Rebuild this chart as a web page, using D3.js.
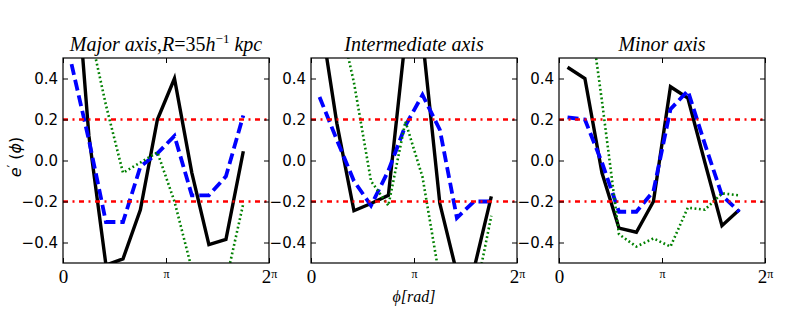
<!DOCTYPE html>
<html>
<head>
<meta charset="utf-8">
<script src="https://cdn.jsdelivr.net/npm/d3@7"></script>
<style>
  body { margin: 0; background: #fff; }
</style>
</head>
<body>
<script>

/* bin centres in phi [rad] */
var phi = [0.26, 0.79, 1.31, 1.83, 2.36, 2.88, 3.40, 3.93, 4.45, 4.97, 5.50];

var titles = ['Major axis', 'Intermediate axis', 'Minor axis'];

/* e'(phi): solid black, dashed blue, dotted green */
var major_solid  = [1.20, 0.12, -0.51, -0.48, -0.24, 0.20, 0.40, -0.06, -0.41, -0.385, 0.045];
var major_dashed = [0.47, 0.10, -0.30, -0.30, -0.03, 0.035, 0.12, -0.17, -0.17, -0.077, 0.22];
var major_dotted = [0.95, 0.65, 0.27, -0.06, -0.01, 0.04, -0.20, -0.53, -0.75, -0.59, -0.21];

var inter_solid  = [0.73, 0.18, -0.245, -0.21, -0.17, 0.60, 0.60, -0.21, -0.55, -0.53, -0.175];
var inter_dashed = [0.31, 0.10, -0.10, -0.22, -0.05, 0.17, 0.32, 0.15, -0.28, -0.20, -0.20];
var inter_dotted = [1.00, 0.75, 0.38, -0.10, -0.22, 0.19, -0.08, -0.58, -0.80, -0.69, -0.27];

var minor_solid  = [0.455, 0.40, -0.06, -0.33, -0.35, -0.20, 0.36, 0.305, -0.01, -0.318, -0.24];
var minor_dashed = [0.21, 0.20, -0.01, -0.25, -0.25, -0.15, 0.25, 0.34, 0.08, -0.17, -0.25];
var minor_dotted = [1.10, 0.90, 0.29, -0.36, -0.42, -0.38, -0.42, -0.23, -0.24, -0.16, -0.17];

var thresholds = [0.2, -0.2];
var y_ticks = [-0.4, -0.2, 0.0, 0.2, 0.4];
var x_ticks = [0, Math.PI, 2 * Math.PI];
var x_tick_labels = ['0', 'π', '2π'];

var panels = [
    {title: titles[0], series: [major_solid, major_dashed, major_dotted]},
    {title: titles[1], series: [inter_solid, inter_dashed, inter_dotted]},
    {title: titles[2], series: [minor_solid, minor_dashed, minor_dotted]}
];

/* plot dimensions */
var width = 789,
    height = 329,
    panel_left = [63, 311, 559],
    panel_w = 206,
    panel_top = 58,
    panel_h = 205;

var SERIF = '"Liberation Serif"',
    SANS = '"DejaVu Sans"';

var styles = [
    {color: '#000000', width: 3.4, dash: null},
    {color: '#0000ff', width: 3.8, dash: '11,5'},
    {color: '#008000', width: 2.6, dash: '1.8,2.6'}
];

var svg = d3.select('body').append('svg')
    .attr('width', width)
    .attr('height', height)
    .style('background', '#fff');

var x = d3.scaleLinear().domain([0, 2 * Math.PI]).range([0, panel_w]);
var y = d3.scaleLinear().domain([-0.5, 0.5]).range([panel_h, 0]);

var line = d3.line()
    .x((d, i) => x(phi[i]))
    .y(d => y(d));

panels.forEach(function(p, pi) {
    var g = svg.append('g')
        .attr('transform', 'translate(' + panel_left[pi] + ',' + panel_top + ')');

    g.append('clipPath').attr('id', 'clip' + pi)
        .append('rect').attr('width', panel_w).attr('height', panel_h);

    var plot = g.append('g').attr('clip-path', 'url(#clip' + pi + ')');

    p.series.forEach(function(s, si) {
        plot.append('path')
            .datum(s)
            .attr('d', line)
            .attr('fill', 'none')
            .attr('stroke', styles[si].color)
            .attr('stroke-width', styles[si].width)
            .attr('stroke-dasharray', styles[si].dash)
            .attr('stroke-linejoin', 'miter');
    });

    plot.selectAll('.thr').data(thresholds).enter().append('line')
        .attr('x1', 0).attr('x2', panel_w)
        .attr('y1', d => y(d)).attr('y2', d => y(d))
        .attr('stroke', '#ff0000')
        .attr('stroke-width', 2.5)
        .attr('stroke-dasharray', '5,4.5,2,4.5');

    /* inward ticks on all four sides */
    var ax_left = g.append('g')
        .call(d3.axisLeft(y).tickValues(y_ticks).tickSize(-5).tickPadding(5).tickFormat(d3.format('.1f')));
    ax_left.selectAll('text')
        .style('font-family', SANS)
        .style('font-size', '15px')
        .attr('fill', '#000');

    g.append('g').attr('transform', 'translate(' + panel_w + ',0)')
        .call(d3.axisRight(y).tickValues(y_ticks).tickSize(-5).tickFormat(''));
    g.append('g')
        .call(d3.axisTop(x).tickValues(x_ticks).tickSize(-5).tickFormat(''));
    var ax_bottom = g.append('g').attr('transform', 'translate(0,' + panel_h + ')')
        .call(d3.axisBottom(x).tickValues(x_ticks).tickSize(-5).tickFormat(''));

    ax_bottom.selectAll('.tick').each(function(d, i) {
        var lab = x_tick_labels[i];
        var t = d3.select(this).append('text')
            .attr('y', 20)
            .attr('text-anchor', 'middle')
            .attr('fill', '#000')
            .style('font-family', SERIF)
            .style('font-size', '19px');
        if (lab.indexOf('π') < 0) {
            t.text(lab);
        } else {
            if (lab.length > 1) t.append('tspan').text(lab.replace('π', ''));
            t.append('tspan').text('π')
                .style('font-size', '12px')
                .attr('dy', -5);
        }
    });

    g.selectAll('.domain').remove();
    g.selectAll('.tick line').attr('stroke', '#000').attr('stroke-width', 1);

    g.append('rect')
        .attr('width', panel_w).attr('height', panel_h)
        .attr('fill', 'none').attr('stroke', '#000').attr('stroke-width', 1.2);

    /* panel title */
    var title = g.append('text')
        .attr('x', panel_w / 2).attr('y', -7)
        .attr('text-anchor', 'middle')
        .style('font-family', SERIF)
        .style('font-size', '20px')
        .style('font-style', 'italic')
        .text(p.title);
    if (pi === 0) {
        title.append('tspan').style('font-style', 'normal').text(',');
        title.append('tspan').text('R');
        title.append('tspan').style('font-style', 'normal').text('=35');
        title.append('tspan').text('h');
        title.append('tspan').style('font-style', 'normal').style('font-size', '13px').attr('dy', -8).text('−1');
        title.append('tspan').attr('dy', 8).text(' kpc');
    }
});

/* axis labels */
var ylab = svg.append('text')
    .attr('transform', 'translate(21,157) rotate(-90)')
    .attr('text-anchor', 'middle')
    .style('font-family', SANS)
    .style('font-size', '16px');
ylab.append('tspan').style('font-style', 'italic').text('e');
ylab.append('tspan').attr('dy', -5).style('font-size', '12px').text('′');
ylab.append('tspan').attr('dy', 5).text(' (');
ylab.append('tspan').style('font-style', 'italic').text('ϕ');
ylab.append('tspan').text(')');

svg.append('text')
    .attr('x', panel_left[1] + panel_w / 2)
    .attr('y', 302)
    .attr('text-anchor', 'middle')
    .style('font-family', SERIF)
    .style('font-size', '16px')
    .style('font-style', 'italic')
    .text('ϕ[rad]');

</script>
</body>
</html>
